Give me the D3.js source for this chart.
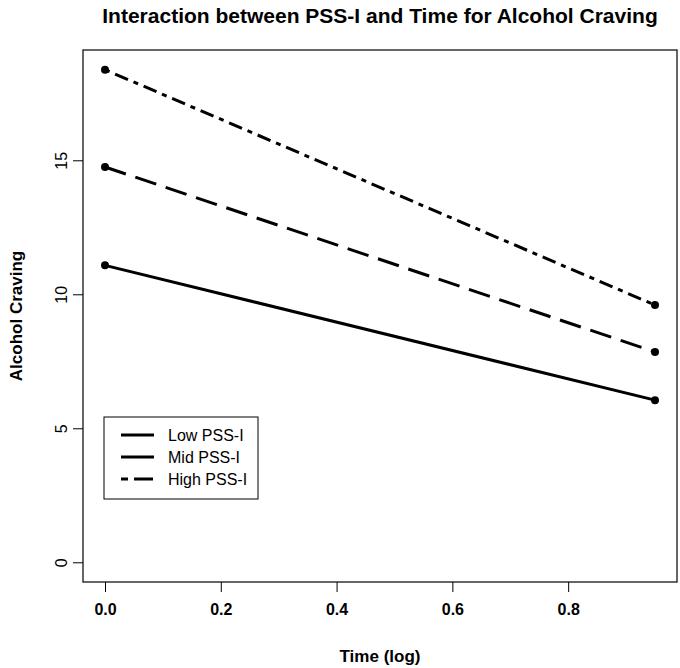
<!DOCTYPE html>
<html>
<head>
<meta charset="utf-8">
<title>Alcohol Craving</title>
<script src="https://cdn.jsdelivr.net/npm/d3@7"></script>
<style>
  body { margin: 0; background: #fff; }
  svg text { font-family: "Liberation Sans", Arial, sans-serif; fill: #000; }
</style>
</head>
<body>
<script>
// data
var times = [0, 0.95];
var lowPSS = [11.08, 6.05];
var midPSS = [14.75, 7.85];
var highPSS = [18.38, 9.6];
var seriesNames = ["Low PSS-I", "Mid PSS-I", "High PSS-I"];
var xTicks = [0, 0.2, 0.4, 0.6, 0.8];
var yTicks = [0, 5, 10, 15];

var width = 680, height = 668;
var box = {left: 83, right: 677, top: 50, bottom: 582};

var svg = d3.select("body").append("svg")
  .attr("width", width).attr("height", height);

// R style: 4% padding on each side of the data range
var xMax = d3.max(times), yMax = d3.max(highPSS);
var x = d3.scaleLinear()
  .domain([-0.04 * xMax, xMax * 1.04])
  .range([box.left, box.right]);
var y = d3.scaleLinear()
  .domain([-0.04 * yMax, yMax * 1.04])
  .range([box.bottom, box.top]);

// plot box
svg.append("rect")
  .attr("x", box.left).attr("y", box.top)
  .attr("width", box.right - box.left).attr("height", box.bottom - box.top)
  .attr("fill", "none").attr("stroke", "#000").attr("stroke-width", 1.2);

// axes
var xAxis = svg.append("g")
  .attr("transform", "translate(0," + box.bottom + ")")
  .call(d3.axisBottom(x).tickValues(xTicks).tickFormat(d3.format(".1f")).tickSize(10).tickPadding(12));
xAxis.select(".domain").remove();
xAxis.selectAll("text").attr("font-size", 16).attr("font-weight", "bold")
  .style("font-family", "Liberation Sans, Arial, sans-serif");

var yAxis = svg.append("g")
  .attr("transform", "translate(" + box.left + ",0)")
  .call(d3.axisLeft(y).tickValues(yTicks).tickSize(10));
yAxis.select(".domain").remove();
yAxis.selectAll("text")
  .attr("font-size", 16)
  .style("font-family", "Liberation Sans, Arial, sans-serif")
  .attr("text-anchor", "middle")
  .attr("x", 0).attr("dy", null)
  .attr("transform", "translate(-16,0) rotate(-90)");

// lines
var dashes = [null, "22,10", "5,6,14,6"];
var legendDashes = [null, "40,10", "7,6,19,6"];
var series = [lowPSS, midPSS, highPSS];
var line = d3.line().x(function(d, i){ return x(times[i]); }).y(function(d){ return y(d); });

series.forEach(function(s, k){
  svg.append("path")
    .datum(s)
    .attr("d", line)
    .attr("fill", "none")
    .attr("stroke", "#000")
    .attr("stroke-width", 3)
    .attr("stroke-dasharray", dashes[k]);
  svg.selectAll(".pt" + k)
    .data(s).enter()
    .append("circle")
    .attr("cx", function(d, i){ return x(times[i]); })
    .attr("cy", function(d){ return y(d); })
    .attr("r", 4)
    .attr("fill", "#000");
});

// legend
var lg = svg.append("g").attr("transform", "translate(104,417)");
lg.append("rect").attr("width", 154).attr("height", 82)
  .attr("fill", "#fff").attr("stroke", "#000").attr("stroke-width", 1);
seriesNames.forEach(function(name, k){
  var ry = 18 + k * 22;
  lg.append("line")
    .attr("x1", 17).attr("x2", 50).attr("y1", ry).attr("y2", ry)
    .attr("stroke", "#000").attr("stroke-width", 3)
    .attr("stroke-dasharray", legendDashes[k]);
  lg.append("text").attr("x", 64).attr("y", ry + 6)
    .attr("font-size", 16).text(name);
});

// titles
svg.append("text")
  .attr("x", (box.left + box.right) / 2).attr("y", 23)
  .attr("text-anchor", "middle").attr("font-size", 21).attr("font-weight", "bold")
  .text("Interaction between PSS-I and Time for Alcohol Craving");
svg.append("text")
  .attr("x", (box.left + box.right) / 2).attr("y", 662)
  .attr("text-anchor", "middle").attr("font-size", 17).attr("font-weight", "bold")
  .text("Time (log)");
svg.append("text")
  .attr("transform", "translate(22," + ((box.top + box.bottom) / 2) + ") rotate(-90)")
  .attr("text-anchor", "middle").attr("font-size", 17).attr("font-weight", "bold")
  .text("Alcohol Craving");
</script>
</body>
</html>
